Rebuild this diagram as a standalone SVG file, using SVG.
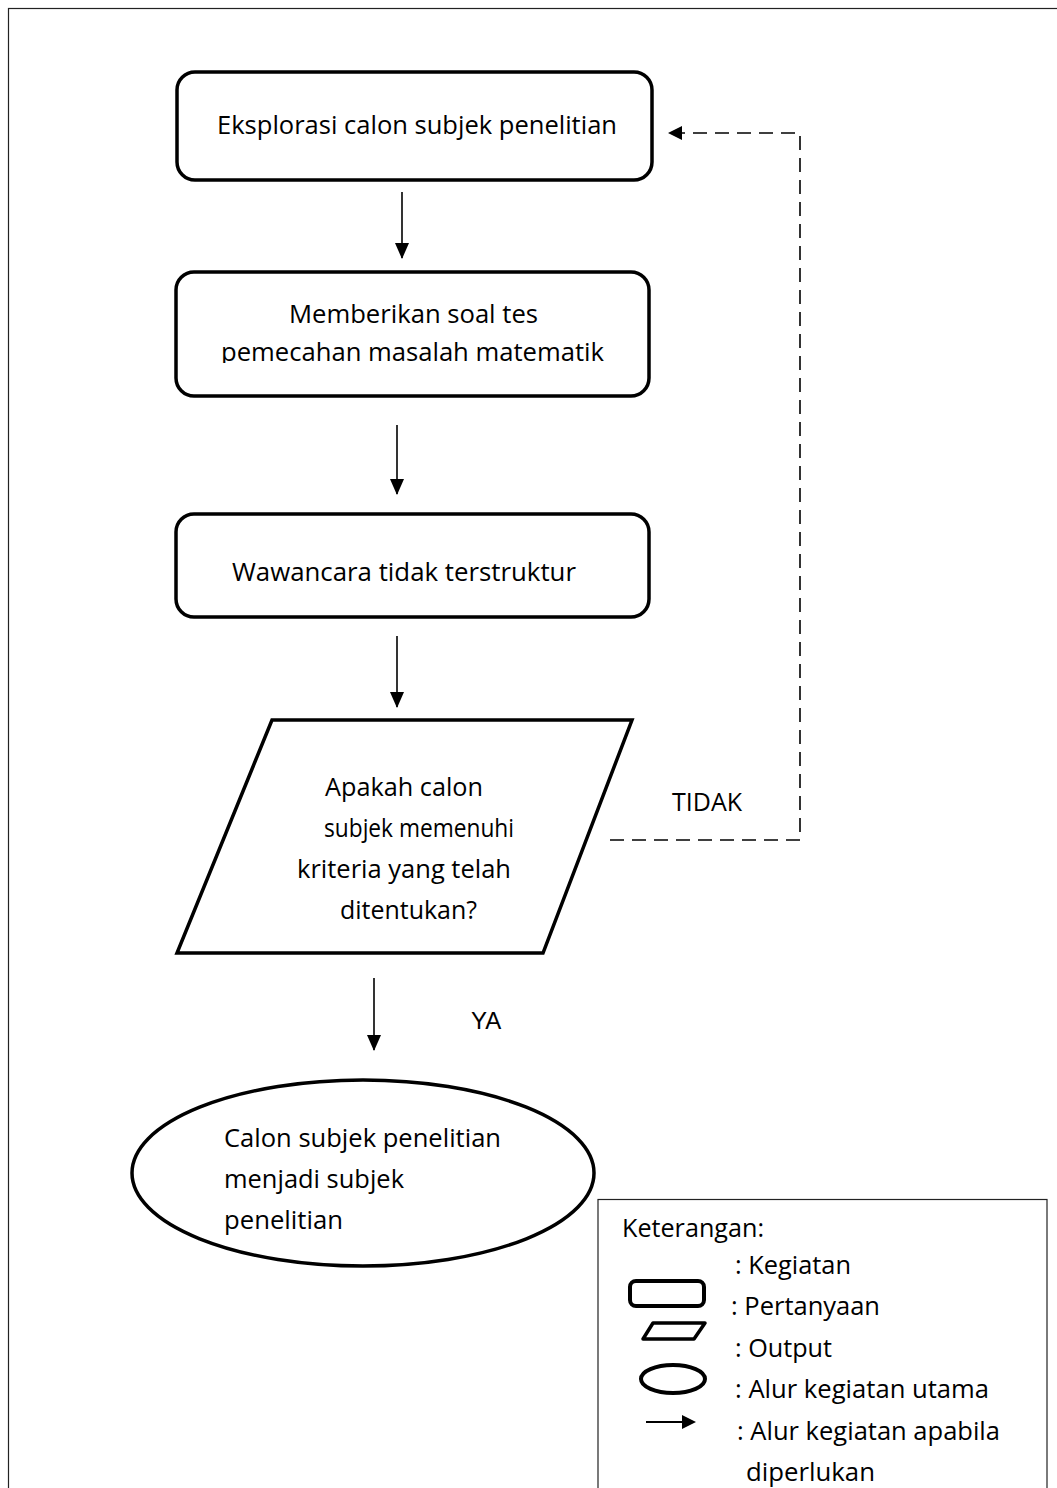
<svg xmlns="http://www.w3.org/2000/svg" width="1057" height="1488" viewBox="0 0 1057 1488">
<style>
text{font-family:"Open Sans","Noto Sans","Liberation Sans",sans-serif;font-size:25px;fill:#000}
.box{fill:#fff;stroke:#000;stroke-width:3.5}
.flow{stroke:#000;stroke-width:1.6;fill:none}
.dash{stroke:#000;stroke-width:1.6;fill:none;stroke-dasharray:14 8}
</style>
<defs>
<marker id="ahb" markerWidth="16" markerHeight="16" refX="15" refY="8" orient="auto" markerUnits="userSpaceOnUse" viewBox="0 0 16 16">
<path d="M0,1 L16,8 L0,15 Z" fill="#000"/>
</marker>
<clipPath id="clip2"><rect x="170" y="270" width="490" height="93"/></clipPath>
</defs>
<rect width="1057" height="1488" fill="#fff"/>
<rect x="8.5" y="8.5" width="1060" height="1490" fill="none" stroke="#222" stroke-width="1.2"/>

<g id="connectors">
<line class="flow" x1="402" y1="192" x2="402" y2="258" marker-end="url(#ahb)"/>
<line class="flow" x1="397" y1="425" x2="397" y2="494" marker-end="url(#ahb)"/>
<line class="flow" x1="397" y1="636" x2="397" y2="707" marker-end="url(#ahb)"/>
<line class="flow" x1="374" y1="978" x2="374" y2="1050" marker-end="url(#ahb)"/>
<path class="dash" d="M610,840 H800 V133 H668"/>
<path d="M668,133 L682,126 L682,140 Z" fill="#000"/>
<text x="672" y="811" textLength="70" lengthAdjust="spacingAndGlyphs">TIDAK</text>
<text x="471" y="1029" style="font-family:'Liberation Sans',Arial,sans-serif;font-size:24px">YA</text>
</g>

<g id="n1">
<rect class="box" x="177" y="72" width="475" height="108" rx="18" stroke-width="4"/>
<text x="217" y="134" textLength="400" lengthAdjust="spacingAndGlyphs">Eksplorasi calon subjek penelitian</text>
</g>

<g id="n2">
<rect class="box" x="176" y="272" width="473" height="124" rx="18"/>
<text x="289" y="323" textLength="249" lengthAdjust="spacingAndGlyphs">Memberikan soal tes</text>
<text x="221" y="361" textLength="383" lengthAdjust="spacingAndGlyphs" clip-path="url(#clip2)">pemecahan masalah matematik</text>
</g>

<g id="n3">
<rect class="box" x="176" y="514" width="473" height="103" rx="18"/>
<text x="232" y="581" textLength="344" lengthAdjust="spacingAndGlyphs">Wawancara tidak terstruktur</text>
</g>

<g id="n4">
<polygon class="box" points="272,720 632,720 543,953 177,953" stroke-width="4.5" stroke-linejoin="miter"/>
<text x="325" y="796" textLength="158" lengthAdjust="spacingAndGlyphs">Apakah calon</text>
<text x="324" y="837" textLength="190" lengthAdjust="spacingAndGlyphs">subjek memenuhi</text>
<text x="297" y="878" textLength="214" lengthAdjust="spacingAndGlyphs">kriteria yang telah</text>
<text x="340" y="919" textLength="137" lengthAdjust="spacingAndGlyphs">ditentukan?</text>
</g>

<g id="n5">
<ellipse class="box" cx="363" cy="1173" rx="231" ry="93" stroke-width="4"/>
<text x="224" y="1147" textLength="277" lengthAdjust="spacingAndGlyphs">Calon subjek penelitian</text>
<text x="224" y="1188" textLength="180" lengthAdjust="spacingAndGlyphs">menjadi subjek</text>
<text x="224" y="1229" textLength="119" lengthAdjust="spacingAndGlyphs">penelitian</text>
</g>

<g id="legend">
<rect x="598" y="1199.5" width="449" height="300" fill="#fff" stroke="#222" stroke-width="1.2"/>
<text x="622" y="1237" textLength="142" lengthAdjust="spacingAndGlyphs">Keterangan:</text>
<text x="735" y="1274" textLength="116" lengthAdjust="spacingAndGlyphs">: Kegiatan</text>
<text x="731" y="1315" textLength="149" lengthAdjust="spacingAndGlyphs">: Pertanyaan</text>
<text x="735" y="1357" textLength="97" lengthAdjust="spacingAndGlyphs">: Output</text>
<text x="735" y="1398" textLength="254" lengthAdjust="spacingAndGlyphs">: Alur kegiatan utama</text>
<text x="737" y="1440" textLength="263" lengthAdjust="spacingAndGlyphs">: Alur kegiatan apabila</text>
<text x="746" y="1481" textLength="129" lengthAdjust="spacingAndGlyphs">diperlukan</text>
<rect x="630" y="1281" width="74" height="25" rx="6" fill="none" stroke="#000" stroke-width="4"/>
<polygon points="653,1323 705,1323 694,1339 643,1339" fill="none" stroke="#000" stroke-width="3.5" stroke-linejoin="round"/>
<ellipse cx="673" cy="1379" rx="32" ry="14" fill="none" stroke="#000" stroke-width="4"/>
<line x1="646" y1="1422" x2="684" y2="1422" stroke="#000" stroke-width="2"/>
<path d="M682,1415 L696,1422 L682,1429 Z" fill="#000"/>
</g>
</svg>
